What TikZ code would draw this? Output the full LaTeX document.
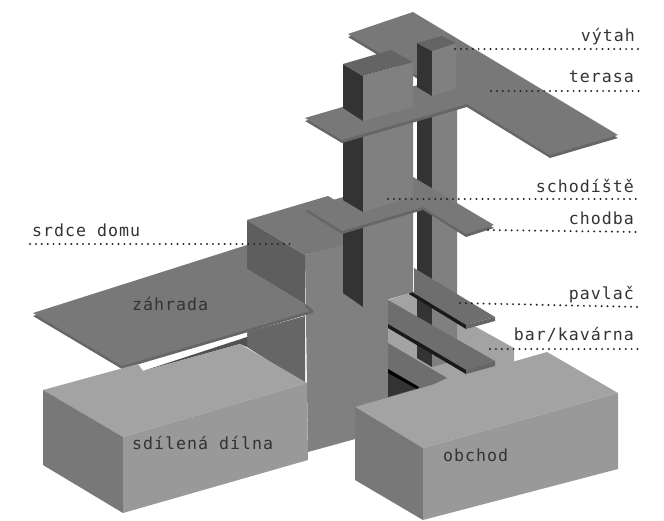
\documentclass[tikz,border=0pt]{standalone}
\usepackage{fontspec}
\setmonofont[LetterSpace=6]{DejaVu Sans Mono}
\usepackage{xcolor}
\definecolor{platetop}{gray}{0.47}
\definecolor{plateside}{gray}{0.40}
\definecolor{wallfront}{gray}{0.50}
\definecolor{wallside}{gray}{0.37}
\definecolor{walldark}{gray}{0.20}
\definecolor{boxtop}{gray}{0.64}
\definecolor{boxfront}{gray}{0.60}
\definecolor{boxside}{gray}{0.47}
\definecolor{shelftop}{gray}{0.43}
\definecolor{labelgray}{gray}{0.2}
\newcommand{\plate}[1]{%
  \fill[plateside, shift={(0,3)}] #1 -- cycle;
  \fill[platetop] #1 -- cycle;}
\begin{document}
\begin{tikzpicture}[
  x=1pt, y=-1pt,
  tag/.style={inner sep=0pt, font=\ttfamily\fontsize{16.6}{16.6}\selectfont, text=labelgray},
  tagr/.style={tag, anchor=base east},
  tagl/.style={tag, anchor=base west},
  leader/.style={black!85, line width=2.2pt, line cap=round, dash pattern=on 0pt off 5.9pt}
]
\useasboundingbox (0,0) rectangle (664,520);

% trunk and rear floor
\fill[wallfront] (305,255) -- (388,230) -- (388,430) -- (308,452) -- cycle;
\fill[boxtop] (388,300) -- (413,292) -- (514,348) -- (514,362) -- (400,400) -- (388,400) -- cycle;

% right column
\fill[walldark] (417,70) -- (432,70) -- (432,367) -- (417,358) -- cycle;
\fill[wallfront] (432,70) -- (457,70) -- (457,360) -- (432,367) -- cycle;

% lower shelves
\fill[shelftop] (388,343) -- (447,378) -- (400,400) -- (388,400) -- cycle;
\fill[black!80] (388,369) -- (419,388) -- (388,397) -- cycle;
\fill[black] (388,369) -- (419,387) -- (417,389) -- (388,373) -- cycle;
\fill[shelftop] (388,300) -- (495,361) -- (466,370) -- (388,324) -- cycle;
\fill[black!90] (388,324) -- (466,370) -- (466,374) -- (388,328) -- cycle;
\fill[plateside] (466,370) -- (495,361) -- (495,366) -- (466,374) -- cycle;
\fill[shelftop] (414,268) -- (495,317) -- (466,325) -- (410,291) -- (414,292) -- cycle;
\fill[black!90] (410,291) -- (466,325) -- (466,329) -- (409,294) -- cycle;
\fill[plateside] (466,325) -- (495,317) -- (495,321) -- (466,329) -- cycle;

% heart block
\fill[plateside] (247,332) -- (305,316) -- (305,384) -- (247,347) -- cycle;
\fill[white] (138,364) -- (247,332) -- (247,337) -- (143,371) -- cycle;
\fill[plateside!80!black] (143,371) -- (247,337) -- (247,347) -- (240,344) -- cycle;
\plate{(33,313) -- (247,245) -- (247,269) -- (305,304) -- (313,310) -- (122,366)}
\fill[wallside] (247,220) -- (305,255) -- (305,304) -- (247,269) -- cycle;
\fill[platetop] (247,220) -- (328,196) -- (345,206) -- (345,244) -- (305,255) -- cycle;
\fill[plateside] (305,304) -- (313,310) -- (313,313) -- (305,307) -- cycle;

% left column below the corridor
\fill[walldark] (343,225) -- (363,225) -- (363,307) -- (343,293) -- cycle;
\fill[wallfront] (363,225) -- (413,210) -- (413,292) -- (363,307) -- cycle;

% corridor slab and column above it
\plate{(305,208) -- (413,177) -- (494,225) -- (466,234) -- (423,207) -- (342,231)}
\fill[walldark] (343,130) -- (363,130) -- (363,212) -- (343,200) -- cycle;
\fill[wallfront] (363,130) -- (413,120) -- (413,197) -- (363,212) -- cycle;

% terrace slab
\plate{(305,118) -- (428,82) -- (348,34) -- (413,12) -- (618,135) -- (550,155) -- (467,104) -- (342,140)}

% top of the left column
\fill[walldark] (343,64) -- (363,76) -- (363,121) -- (343,108) -- cycle;
\fill[wallfront] (363,76) -- (413,62) -- (413,107) -- (363,121) -- cycle;
\fill[platetop!115] (343,64) -- (391,50) -- (413,62) -- (363,76) -- cycle;

% lift
\fill[walldark] (417,43) -- (432,51) -- (432,96) -- (417,87) -- cycle;
\fill[wallfront] (432,51) -- (456,43) -- (456,89) -- (432,96) -- cycle;
\fill[platetop!115] (417,43) -- (442,36) -- (456,43) -- (432,51) -- cycle;

% workshop
\fill[boxtop] (43,390) -- (138,364) -- (143,371) -- (240,344) -- (307,383) -- (123,437) -- cycle;
\fill[boxside] (43,390) -- (123,437) -- (123,513) -- (43,465) -- cycle;
\fill[boxfront] (123,437) -- (307,383) -- (308,460) -- (123,513) -- cycle;

% shop
\fill[boxtop] (355,407) -- (547,352) -- (618,393) -- (423,448) -- cycle;
\fill[boxside] (355,407) -- (423,448) -- (423,520) -- (355,480) -- cycle;
\fill[boxfront] (423,448) -- (618,393) -- (618,469) -- (423,520) -- cycle;

% labels
\node[tagr] (vytah) at (635,41) {výtah};
\node[tagr] (terasa) at (634,82) {terasa};
\node[tagr] (schodiste) at (634,192) {schodíště};
\node[tagr] (chodba) at (634,224) {chodba};
\node[tagr] (pavlac) at (634,299) {pavlač};
\node[tagr] (bar) at (634,340) {bar/kavárna};
\node[tagl] (srdce) at (32,236) {srdce domu};
\node[tagl] (zahrada) at (132,310) {záhrada};
\node[tagl] (dilna) at (132,449) {sdílená dílna};
\node[tagl] (obchod) at (443,461) {obchod};

% leaders
\coordinate (vytah-a) at (455,49);
\coordinate (vytah-b) at (639,49);
\coordinate (terasa-a) at (491,91);
\coordinate (terasa-b) at (639,91);
\coordinate (schodiste-a) at (388,199);
\coordinate (schodiste-b) at (639,199);
\coordinate (chodba-a) at (488,230);
\coordinate (chodba-b) at (639,232);
\coordinate (srdce-a) at (30,244);
\coordinate (srdce-b) at (291,244);
\coordinate (pavlac-a) at (460,303);
\coordinate (pavlac-b) at (639,307);
\coordinate (bar-a) at (490,349);
\coordinate (bar-b) at (639,349);
\draw[leader] (vytah-a) -- (vytah-b);
\draw[leader] (terasa-a) -- (terasa-b);
\draw[leader] (schodiste-a) -- (schodiste-b);
\draw[leader] (chodba-a) -- (chodba-b);
\draw[leader] (srdce-a) -- (srdce-b);
\draw[leader] (pavlac-a) -- (pavlac-b);
\draw[leader] (bar-a) -- (bar-b);
\end{tikzpicture}
\end{document}
